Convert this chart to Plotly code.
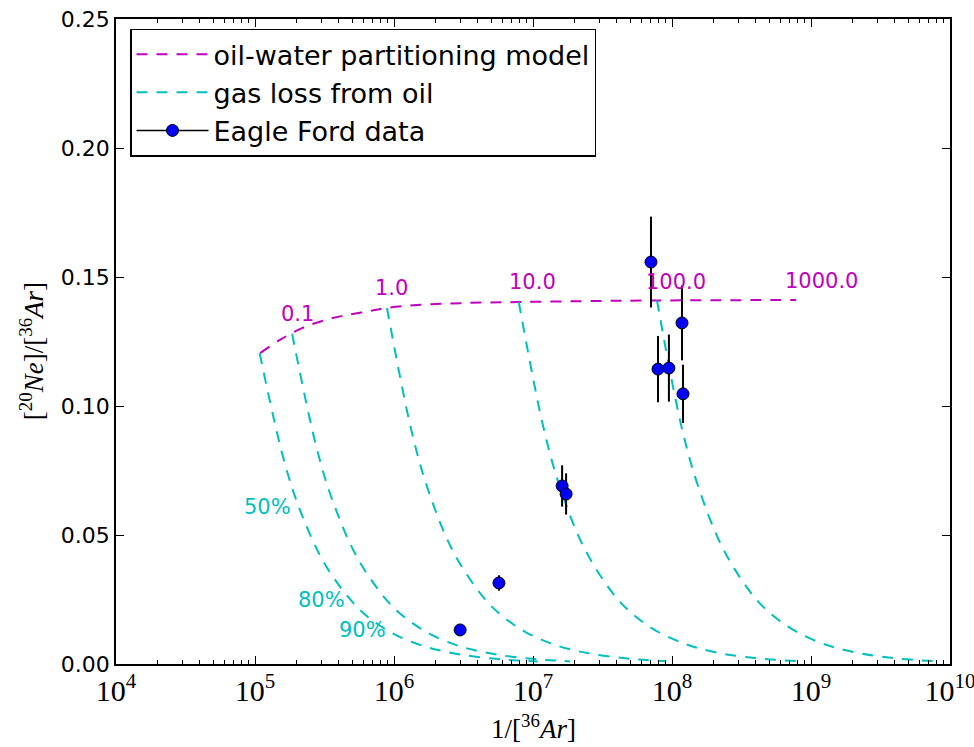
import numpy as np
import plotly.graph_objects as go

# ---------------- data ----------------
# oil-water partitioning model curve
model_x = [1.09e5, 1.51e5, 2.18e5, 3.19e5, 4.59e5, 6.72e5, 8.91e5, 1.46e6, 3.13e6,
           7.93e6, 3.03e7, 7.8e7, 7.8e8]
model_y = [0.1205, 0.1256, 0.1302, 0.1333, 0.1353, 0.1368, 0.1380, 0.1391, 0.1399,
           0.1403, 0.1407, 0.1409, 0.1411]

# model labels (oil/water ratio)
model_labels = ["0.1", "1.0", "10.0", "100.0", "1000.0"]
model_label_x = [1.49e5, 7.06e5, 6.5e6, 6.3e7, 6.3e8]
model_label_y = [0.1355, 0.1458, 0.1480, 0.1480, 0.1486]

# gas loss from oil curves
loss1_x = [1.08e5, 1.62e5, 2.16e5, 3.24e5, 5.4e5, 7.56e5, 1.08e6, 1.62e6, 2.16e6, 3.24e6, 5.4e6, 7.56e6, 1.08e7]
loss1_y = [0.1205, 0.0787, 0.0582, 0.0380, 0.0222, 0.0156, 0.0107, 0.0070, 0.0052, 0.0034, 0.0020, 0.0014, 0.0010]
loss2_x = [1.85e5, 2.78e5, 3.7e5, 5.55e5, 9.25e5, 1.3e6, 1.85e6, 2.78e6, 3.7e6, 5.55e6, 9.25e6, 1.3e7, 1.85e7]
loss2_y = [0.1280, 0.0836, 0.0618, 0.0404, 0.0236, 0.0166, 0.0114, 0.0074, 0.0055, 0.0036, 0.0021, 0.0015, 0.0010]
loss3_x = [8.9e5, 1.34e6, 1.78e6, 2.67e6, 4.45e6, 6.23e6, 8.9e6, 1.34e7, 1.78e7, 2.67e7, 4.45e7, 6.23e7, 8.9e7]
loss3_y = [0.1380, 0.0901, 0.0667, 0.0435, 0.0255, 0.0179, 0.0123, 0.0080, 0.0059, 0.0039, 0.0023, 0.0016, 0.0011]
loss4_x = [7.9e6, 1.19e7, 1.58e7, 2.37e7, 3.95e7, 5.53e7, 7.9e7, 1.19e8, 1.58e8, 2.37e8, 3.95e8, 5.53e8, 7.9e8]
loss4_y = [0.1403, 0.0916, 0.0678, 0.0443, 0.0259, 0.0182, 0.0125, 0.0082, 0.0060, 0.0039, 0.0023, 0.0016, 0.0011]
loss5_x = [7.8e7, 1.17e8, 1.56e8, 2.34e8, 3.9e8, 5.46e8, 7.8e8, 1.17e9, 1.56e9, 2.34e9, 3.9e9, 5.46e9, 7.8e9]
loss5_y = [0.1409, 0.0920, 0.0681, 0.0445, 0.0260, 0.0183, 0.0126, 0.0082, 0.0061, 0.0040, 0.0023, 0.0016, 0.0011]
loss_curves = [(loss1_x, loss1_y), (loss2_x, loss2_y), (loss3_x, loss3_y),
               (loss4_x, loss4_y), (loss5_x, loss5_y)]

# gas loss labels
loss_labels = ["50%", "80%", "90%"]
loss_label_x = [1.22e5, 3.03e5, 5.98e5]
loss_label_y = [0.0609, 0.0248, 0.0132]

# Eagle Ford data
ef_x = [2.99e6, 5.69e6, 1.62e7, 1.73e7, 7.06e7, 7.93e7, 9.5e7, 1.18e8, 1.2e8]
ef_y = [0.0132, 0.0314, 0.0690, 0.0659, 0.1558, 0.1143, 0.1147, 0.1322, 0.1047]
ef_err = [0.001, 0.003, 0.008, 0.008, 0.0176, 0.0128, 0.013, 0.0145, 0.0113]

x_range = [4, 10]
y_range = [0, 0.25]

MAG = "#bf00bf"
CYA = "#00bfbf"
DASH = "11px,9px"

fig = go.Figure()

fig.add_trace(go.Scatter(
    x=model_x, y=model_y, mode="lines", line=dict(color=MAG, width=2, dash=DASH, shape="spline"),
    name="oil-water partitioning model", legendgroup="a"))

for i, (lx, ly) in enumerate(loss_curves):
    fig.add_trace(go.Scatter(
        x=lx, y=ly, mode="lines", line=dict(color=CYA, width=2, dash=DASH, shape="spline"),
        name="gas loss from oil", showlegend=(i == 0), legendgroup="b"))

fig.add_trace(go.Scatter(
    x=ef_x, y=ef_y, mode="markers",
    marker=dict(color="#0000ff", size=12, line=dict(color="black", width=1)),
    error_y=dict(type="data", array=ef_err, color="black", thickness=2, width=0),
    showlegend=False))
# legend entry for data
fig.add_trace(go.Scatter(
    x=[None], y=[None], mode="lines+markers",
    marker=dict(color="#0000ff", size=12, line=dict(color="black", width=1)),
    line=dict(color="black", width=1.5),
    name="Eagle Ford data", legendgroup="c"))

for t, lx, ly in zip(model_labels, model_label_x, model_label_y):
    fig.add_annotation(x=np.log10(lx), y=ly, text=t, showarrow=False, xanchor="left", yanchor="middle",
                       font=dict(color=MAG, size=21, family="DejaVu Sans"))
for t, lx, ly in zip(loss_labels, loss_label_x, loss_label_y):
    fig.add_annotation(x=np.log10(lx), y=ly, text=t, showarrow=False, xanchor="center", yanchor="middle",
                       font=dict(color=CYA, size=21, family="DejaVu Sans"))

# axis titles
fig.add_annotation(xref="paper", yref="paper", x=0.5, y=-0.098, showarrow=False,
                   text="1/[<sup>36</sup><i>Ar</i>]", xanchor="center", yanchor="middle",
                   font=dict(size=27, family="Liberation Serif", color="black"))
fig.add_annotation(xref="paper", yref="paper", x=-0.1007, y=0.485, showarrow=False, textangle=-90,
                   text="[<sup>20</sup><i>Ne</i>]/[<sup>36</sup><i>Ar</i>]", xanchor="center", yanchor="middle",
                   font=dict(size=27, family="Liberation Serif", color="black"))

fig.update_xaxes(type="log", range=x_range, showline=True, linecolor="black", linewidth=1.5, mirror="allticks",
                 ticks="inside", ticklen=8, tickwidth=1, tickcolor="black", dtick=1, exponentformat="power",
                 showgrid=False, zeroline=False, ticklabeloverflow="allow", automargin=False,
                 tickfont=dict(family="Liberation Serif", size=24, color="black"),
                 minor=dict(ticks="inside", ticklen=4, tickcolor="black", showgrid=False))
fig.update_yaxes(range=y_range, showline=True, linecolor="black", linewidth=1.5, mirror="allticks",
                 ticks="inside", ticklen=8, tickwidth=1, tickcolor="black", dtick=0.05, tickformat=".2f",
                 showgrid=False, zeroline=False, automargin=False,
                 tickfont=dict(family="DejaVu Sans", size=22, color="black"))

fig.update_layout(
    width=974, height=747, margin=dict(l=116, r=24, t=19, b=83),
    plot_bgcolor="white", paper_bgcolor="white",
    legend=dict(x=0.0168, y=0.985, xanchor="left", yanchor="top", bordercolor="black", borderwidth=1.5,
                bgcolor="white", font=dict(family="DejaVu Sans", size=27, color="black"),
                tracegroupgap=0, itemwidth=72),
)

fig.write_html("out.html")
